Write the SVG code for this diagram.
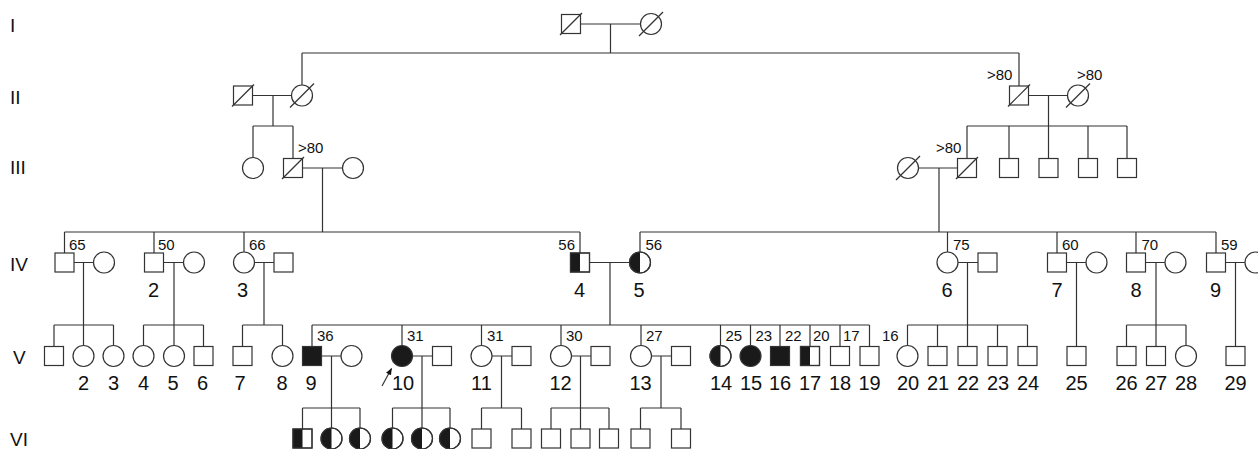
<svg xmlns="http://www.w3.org/2000/svg" width="1258" height="449" viewBox="0 0 1258 449">
<style>
.s{fill:#fff;stroke:#333;stroke-width:1.2}
.o{fill:none;stroke:#333;stroke-width:1.2}
.f{fill:#1a1a1a;stroke:none}
.ff{fill:#1a1a1a;stroke:#333;stroke-width:1.2}
.ln{fill:none;stroke:#333;stroke-width:1.2}
.age{font-family:"Liberation Sans",Arial,sans-serif;font-size:15px;fill:#111}
.num{font-family:"Liberation Sans",Arial,sans-serif;font-size:20px;fill:#111;text-anchor:middle}
.gen{font-family:"Liberation Sans",Arial,sans-serif;font-size:19px;fill:#111}
</style>
<defs>
<marker id="ah" viewBox="0 0 10 10" refX="9" refY="5" markerWidth="7" markerHeight="7" orient="auto" markerUnits="userSpaceOnUse">
<path d="M0 1 L10 5 L0 9 Z" fill="#111"/>
</marker>
</defs>
<rect width="1258" height="449" fill="#fff"/>

<g id="generation-labels">
<text class="gen" x="10" y="31.5">I</text>
<text class="gen" x="10" y="104">II</text>
<text class="gen" x="10" y="174">III</text>
<text class="gen" x="10" y="271">IV</text>
<text class="gen" x="13" y="364">V</text>
<text class="gen" x="10" y="446">VI</text>
</g>

<g id="connectors" class="ln">
<path d="M580.5 24H640.5M610.5 24V53M302 53H1019M302 53V85M1019 53V86"/>
<path d="M252.5 95.5H291.5M273 95.5V126M253 126H293M253 126V157.5M293 126V158.5"/>
<path d="M1028.5 95.5H1067.5M1048.5 95.5V126M967 126H1127M967 126V158.5M1009 126V158.5M1048.5 126V158.5M1088 126V158.5M1127 126V158.5"/>
<path d="M302.5 168H342.5M322.5 168V232M918.5 168H957.5M939 168V232"/>
<path d="M64.5 232H580M64.5 232V253M154 232V253M244 232V252M580 232V253"/>
<path d="M640 232H1216M640 232V252M947.5 232V252M1057 232V253M1136 232V253M1216 232V253"/>
<path d="M74 262.5H93.5M83.5 262.5V325M163.5 262.5H183.5M174 262.5V325M254.5 262.5H274M264 262.5V325M589.5 262.5H629.5M610 262.5V325"/>
<path d="M958 262.5H978M967.5 262.5V325M1066.5 262.5H1086M1076.5 262.5V346.5M1145.5 262.5H1165M1156 262.5V325M1225.5 262.5H1245M1235.5 262.5V346.5"/>
<path d="M54 325H113.5M54 325V346.5M83.5 325V345.5M113.5 325V345.5"/>
<path d="M143.5 325H203.5M143.5 325V345.5M174 325V345.5M203.5 325V346.5"/>
<path d="M242.5 325H282.5M242.5 325V346.5M282.5 325V345.5"/>
<path d="M312 325H869.5M312 325V346.5M402 325V345.5M481.5 325V345.5M561 325V345.5M641 325V345.5M720.5 325V345.5M750.5 325V345.5M780 325V346.5M810 325V346.5M840 325V346.5M869.5 325V346.5"/>
<path d="M907.5 325H1027.5M907.5 325V345.5M937.5 325V346.5M967.5 325V346.5M997.5 325V346.5M1027.5 325V346.5"/>
<path d="M1126.5 325H1186M1126.5 325V346.5M1156 325V346.5M1186 325V345.5"/>
<path d="M321.5 356H341M331.5 356V408M412.5 356H432.5M422 356V408M492 356H512M501.5 356V408M571.5 356H591M580.5 356V408M651.5 356H671.5M661 356V408"/>
<path d="M302.5 408H360M302.5 408V429M331.5 408V428M360 408V428"/>
<path d="M392.5 408H450M392.5 408V428M422 408V428M450 408V428"/>
<path d="M481.5 408H521.5M481.5 408V429M521.5 408V429"/>
<path d="M551 408H609M551 408V429M580.5 408V429M609 408V429"/>
<path d="M640.5 408H681M640.5 408V429M681 408V429"/>
<path d="M382 386L391.5 368.5" marker-end="url(#ah)"/>
</g>

<!-- Generation I -->
<g id="I-1"><rect class="s" x="561.5" y="14.5" width="19" height="19"/><path class="ln" d="M560 35L582 13"/></g>
<g id="I-2"><circle class="s" cx="651" cy="24" r="10.5"/><path class="ln" d="M639 36L663 12"/></g>

<!-- Generation II -->
<g id="II-1"><rect class="s" x="233.5" y="86" width="19" height="19"/><path class="ln" d="M232 106.5L254 84.5"/></g>
<g id="II-2"><circle class="s" cx="302" cy="95.5" r="10.5"/><path class="ln" d="M290 107.5L314 83.5"/></g>
<g id="II-3"><rect class="s" x="1009.5" y="86" width="19" height="19"/><path class="ln" d="M1008 106.5L1030 84.5"/><text class="age" x="987" y="80">&gt;80</text></g>
<g id="II-4"><circle class="s" cx="1078" cy="95.5" r="10.5"/><path class="ln" d="M1066 107.5L1090 83.5"/><text class="age" x="1077" y="80">&gt;80</text></g>

<!-- Generation III -->
<g id="III-1"><circle class="s" cx="253" cy="168" r="10.5"/></g>
<g id="III-2"><rect class="s" x="283.5" y="158.5" width="19" height="19"/><path class="ln" d="M282 179L304 157"/><text class="age" x="298" y="153">&gt;80</text></g>
<g id="III-3"><circle class="s" cx="353" cy="168" r="10.5"/></g>
<g id="III-4"><circle class="s" cx="908" cy="168" r="10.5"/><path class="ln" d="M896 180L920 156"/></g>
<g id="III-5"><rect class="s" x="957.5" y="158.5" width="19" height="19"/><path class="ln" d="M956 179L978 157"/><text class="age" x="936" y="153">&gt;80</text></g>
<g id="III-6"><rect class="s" x="999.5" y="158.5" width="19" height="19"/></g>
<g id="III-7"><rect class="s" x="1039" y="158.5" width="19" height="19"/></g>
<g id="III-8"><rect class="s" x="1078.5" y="158.5" width="19" height="19"/></g>
<g id="III-9"><rect class="s" x="1117.5" y="158.5" width="19" height="19"/></g>

<!-- Generation IV -->
<g id="IV-1"><rect class="s" x="55" y="253" width="19" height="19"/><text class="age" x="69" y="250">65</text></g>
<g id="IV-1s"><circle class="s" cx="104" cy="262.5" r="10.5"/></g>
<g id="IV-2"><rect class="s" x="144.5" y="253" width="19" height="19"/><text class="age" x="158" y="250">50</text><text class="num" x="153.5" y="297">2</text></g>
<g id="IV-2s"><circle class="s" cx="194" cy="262.5" r="10.5"/></g>
<g id="IV-3"><circle class="s" cx="244" cy="262.5" r="10.5"/><text class="age" x="249" y="250">66</text><text class="num" x="242.5" y="297">3</text></g>
<g id="IV-3s"><rect class="s" x="274" y="253" width="19" height="19"/></g>
<g id="IV-4"><rect class="s" x="570.5" y="253" width="19" height="19"/><rect class="f" x="570.5" y="253" width="9.5" height="19"/><rect class="o" x="570.5" y="253" width="19" height="19"/><text class="age" x="575" y="250" text-anchor="end">56</text><text class="num" x="579.5" y="297">4</text></g>
<g id="IV-5"><circle class="s" cx="640" cy="262.5" r="10.5"/><path class="f" d="M640 252A10.5 10.5 0 0 0 640 273Z"/><circle class="o" cx="640" cy="262.5" r="10.5"/><text class="age" x="645.5" y="250">56</text><text class="num" x="639" y="297">5</text></g>
<g id="IV-6"><circle class="s" cx="947.5" cy="262.5" r="10.5"/><text class="age" x="953" y="250">75</text><text class="num" x="947" y="297">6</text></g>
<g id="IV-6s"><rect class="s" x="978" y="253" width="19" height="19"/></g>
<g id="IV-7"><rect class="s" x="1047.5" y="253" width="19" height="19"/><text class="age" x="1062" y="250">60</text><text class="num" x="1057" y="297">7</text></g>
<g id="IV-7s"><circle class="s" cx="1096.5" cy="262.5" r="10.5"/></g>
<g id="IV-8"><rect class="s" x="1126.5" y="253" width="19" height="19"/><text class="age" x="1141.5" y="250">70</text><text class="num" x="1136" y="297">8</text></g>
<g id="IV-8s"><circle class="s" cx="1175.5" cy="262.5" r="10.5"/></g>
<g id="IV-9"><rect class="s" x="1206.5" y="253" width="19" height="19"/><text class="age" x="1221" y="250">59</text><text class="num" x="1215.5" y="297">9</text></g>
<g id="IV-9s"><circle class="s" cx="1255.5" cy="262.5" r="10.5"/></g>

<!-- Generation V -->
<g id="V-1"><rect class="s" x="44.5" y="346.5" width="19" height="19"/></g>
<g id="V-2"><circle class="s" cx="83.5" cy="356" r="10.5"/><text class="num" x="83.5" y="390">2</text></g>
<g id="V-3"><circle class="s" cx="113.5" cy="356" r="10.5"/><text class="num" x="113.5" y="390">3</text></g>
<g id="V-4"><circle class="s" cx="143.5" cy="356" r="10.5"/><text class="num" x="143.5" y="390">4</text></g>
<g id="V-5"><circle class="s" cx="174" cy="356" r="10.5"/><text class="num" x="173" y="390">5</text></g>
<g id="V-6"><rect class="s" x="194" y="346.5" width="19" height="19"/><text class="num" x="202.5" y="390">6</text></g>
<g id="V-7"><rect class="s" x="233" y="346.5" width="19" height="19"/><text class="num" x="240" y="390">7</text></g>
<g id="V-8"><circle class="s" cx="282.5" cy="356" r="10.5"/><text class="num" x="282" y="390">8</text></g>
<g id="V-9"><rect class="ff" x="302.5" y="346.5" width="19" height="19"/><text class="age" x="317" y="341">36</text><text class="num" x="311" y="390">9</text></g>
<g id="V-9s"><circle class="s" cx="351.5" cy="356" r="10.5"/></g>
<g id="V-10"><circle class="ff" cx="402" cy="356" r="10.5"/><text class="age" x="407" y="341">31</text><text class="num" x="403" y="390">10</text></g>
<g id="V-10s"><rect class="s" x="432.5" y="346.5" width="19" height="19"/></g>
<g id="V-11"><circle class="s" cx="481.5" cy="356" r="10.5"/><text class="age" x="487" y="341">31</text><text class="num" x="481.5" y="390">11</text></g>
<g id="V-11s"><rect class="s" x="512" y="346.5" width="19" height="19"/></g>
<g id="V-12"><circle class="s" cx="561" cy="356" r="10.5"/><text class="age" x="566" y="341">30</text><text class="num" x="560.5" y="390">12</text></g>
<g id="V-12s"><rect class="s" x="591" y="346.5" width="19" height="19"/></g>
<g id="V-13"><circle class="s" cx="641" cy="356" r="10.5"/><text class="age" x="646" y="341">27</text><text class="num" x="640.5" y="390">13</text></g>
<g id="V-13s"><rect class="s" x="671.5" y="346.5" width="19" height="19"/></g>
<g id="V-14"><circle class="s" cx="720.5" cy="356" r="10.5"/><path class="f" d="M720.5 345.5A10.5 10.5 0 0 0 720.5 366.5Z"/><circle class="o" cx="720.5" cy="356" r="10.5"/><text class="age" x="725.5" y="341">25</text><text class="num" x="721" y="390">14</text></g>
<g id="V-15"><circle class="ff" cx="750.5" cy="356" r="10.5"/><text class="age" x="755.5" y="341">23</text><text class="num" x="751" y="390">15</text></g>
<g id="V-16"><rect class="ff" x="770.5" y="346.5" width="19" height="19"/><text class="age" x="785" y="341">22</text><text class="num" x="780" y="390">16</text></g>
<g id="V-17"><rect class="s" x="800.5" y="346.5" width="19" height="19"/><rect class="f" x="800.5" y="346.5" width="9.5" height="19"/><rect class="o" x="800.5" y="346.5" width="19" height="19"/><text class="age" x="813" y="341">20</text><text class="num" x="810" y="390">17</text></g>
<g id="V-18"><rect class="s" x="830.5" y="346.5" width="19" height="19"/><text class="age" x="843" y="341">17</text><text class="num" x="840" y="390">18</text></g>
<g id="V-19"><rect class="s" x="860" y="346.5" width="19" height="19"/><text class="age" x="882" y="341">16</text><text class="num" x="869.5" y="390">19</text></g>
<g id="V-20"><circle class="s" cx="907.5" cy="356" r="10.5"/><text class="num" x="908" y="390">20</text></g>
<g id="V-21"><rect class="s" x="928" y="346.5" width="19" height="19"/><text class="num" x="938" y="390">21</text></g>
<g id="V-22"><rect class="s" x="958" y="346.5" width="19" height="19"/><text class="num" x="968" y="390">22</text></g>
<g id="V-23"><rect class="s" x="988" y="346.5" width="19" height="19"/><text class="num" x="998" y="390">23</text></g>
<g id="V-24"><rect class="s" x="1018" y="346.5" width="19" height="19"/><text class="num" x="1028" y="390">24</text></g>
<g id="V-25"><rect class="s" x="1067" y="346.5" width="19" height="19"/><text class="num" x="1076.5" y="390">25</text></g>
<g id="V-26"><rect class="s" x="1117" y="346.5" width="19" height="19"/><text class="num" x="1126.5" y="390">26</text></g>
<g id="V-27"><rect class="s" x="1146.5" y="346.5" width="19" height="19"/><text class="num" x="1156" y="390">27</text></g>
<g id="V-28"><circle class="s" cx="1186" cy="356" r="10.5"/><text class="num" x="1186" y="390">28</text></g>
<g id="V-29"><rect class="s" x="1226" y="346.5" width="19" height="19"/><text class="num" x="1235.5" y="390">29</text></g>

<!-- Generation VI -->
<g id="VI-1"><rect class="s" x="293" y="429" width="19" height="19"/><rect class="f" x="293" y="429" width="9.5" height="19"/><rect class="o" x="293" y="429" width="19" height="19"/></g>
<g id="VI-2"><circle class="s" cx="331.5" cy="438.5" r="10.5"/><path class="f" d="M331.5 428A10.5 10.5 0 0 0 331.5 449Z"/><circle class="o" cx="331.5" cy="438.5" r="10.5"/></g>
<g id="VI-3"><circle class="s" cx="360" cy="438.5" r="10.5"/><path class="f" d="M360 428A10.5 10.5 0 0 0 360 449Z"/><circle class="o" cx="360" cy="438.5" r="10.5"/></g>
<g id="VI-4"><circle class="s" cx="392.5" cy="438.5" r="10.5"/><path class="f" d="M392.5 428A10.5 10.5 0 0 0 392.5 449Z"/><circle class="o" cx="392.5" cy="438.5" r="10.5"/></g>
<g id="VI-5"><circle class="s" cx="422" cy="438.5" r="10.5"/><path class="f" d="M422 428A10.5 10.5 0 0 0 422 449Z"/><circle class="o" cx="422" cy="438.5" r="10.5"/></g>
<g id="VI-6"><circle class="s" cx="450" cy="438.5" r="10.5"/><path class="f" d="M450 428A10.5 10.5 0 0 0 450 449Z"/><circle class="o" cx="450" cy="438.5" r="10.5"/></g>
<g id="VI-7"><rect class="s" x="472" y="429" width="19" height="19"/></g>
<g id="VI-8"><rect class="s" x="512" y="429" width="19" height="19"/></g>
<g id="VI-9"><rect class="s" x="541.5" y="429" width="19" height="19"/></g>
<g id="VI-10"><rect class="s" x="571" y="429" width="19" height="19"/></g>
<g id="VI-11"><rect class="s" x="599.5" y="429" width="19" height="19"/></g>
<g id="VI-12"><rect class="s" x="631" y="429" width="19" height="19"/></g>
<g id="VI-13"><rect class="s" x="671.5" y="429" width="19" height="19"/></g>
</svg>
